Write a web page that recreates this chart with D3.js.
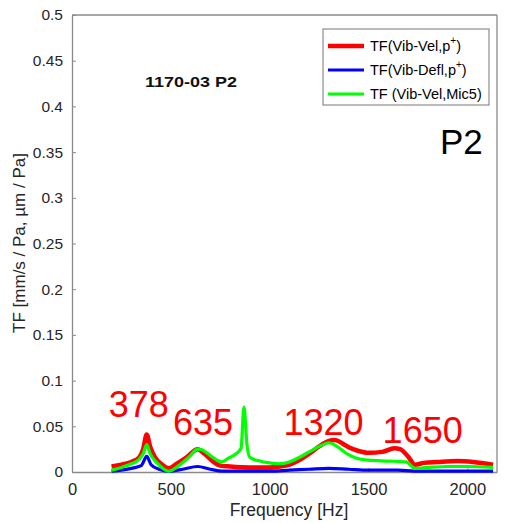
<!DOCTYPE html>
<html>
<head>
<meta charset="utf-8">
<script src="https://cdn.jsdelivr.net/npm/d3@7"></script>
<style>
  html, body { margin: 0; padding: 0; background: #fff; }
  svg { display: block; font-family: "Liberation Sans", Arial, Helvetica, sans-serif; }
</style>
</head>
<body>
<svg id="chart" width="506" height="523"></svg>
<script>
// Transfer function magnitudes vs frequency
const velFreq = [200, 250, 300, 340, 360, 378, 395, 420, 450, 490, 530, 580, 635, 670, 710, 750, 800, 900, 1000, 1050, 1100, 1150, 1200, 1250, 1300, 1330, 1370, 1400, 1450, 1500, 1570, 1630, 1660, 1700, 1735, 1780, 1850, 1950, 2030, 2130];
const velVals = [0.006, 0.008, 0.011, 0.016, 0.025, 0.041, 0.028, 0.016, 0.009, 0.004, 0.009, 0.016, 0.025, 0.020, 0.012, 0.007, 0.006, 0.005, 0.005, 0.006, 0.008, 0.013, 0.020, 0.028, 0.034, 0.035, 0.031, 0.027, 0.023, 0.021, 0.022, 0.026, 0.025, 0.017, 0.008, 0.010, 0.011, 0.012, 0.011, 0.008];

const deflFreq = [200, 300, 350, 378, 400, 440, 490, 560, 635, 700, 760, 900, 1000, 1100, 1200, 1300, 1400, 1500, 1650, 1730, 2130];
const deflVals = [0.001, 0.004, 0.007, 0.017, 0.008, 0.003, 0.001, 0.003, 0.006, 0.003, 0.001, 0.001, 0.001, 0.002, 0.003, 0.004, 0.003, 0.002, 0.002, 0.001, 0.001];

const micFreq = [200, 250, 300, 340, 360, 378, 395, 430, 490, 540, 590, 635, 660, 700, 757, 790, 830, 855, 870, 885, 900, 950, 1000, 1050, 1100, 1150, 1200, 1260, 1300, 1340, 1390, 1440, 1500, 1600, 1690, 1735, 1800, 1900, 2000, 2130];
const micVals = [0.002, 0.005, 0.009, 0.014, 0.020, 0.030, 0.020, 0.010, 0.001, 0.007, 0.016, 0.025, 0.024, 0.018, 0.011, 0.015, 0.020, 0.026, 0.071, 0.030, 0.016, 0.012, 0.010, 0.009, 0.011, 0.016, 0.022, 0.029, 0.032, 0.028, 0.020, 0.015, 0.013, 0.012, 0.011, 0.004, 0.005, 0.006, 0.006, 0.005];

const xTicks = [0, 500, 1000, 1500, 2000];
const yTicks = [0, 0.05, 0.1, 0.15, 0.2, 0.25, 0.3, 0.35, 0.4, 0.45, 0.5];

const peakLabels = ["378", "635", "1320", "1650"];
const peakFreqs = [378, 635, 1320, 1650];
const peakVals = [0.041, 0.025, 0.035, 0.026];

const seriesNames = ["TF(Vib-Vel,p", "TF(Vib-Defl,p", "TF (Vib-Vel,Mic5)"];
const seriesColors = ["#ff0000", "#0000ff", "#00ff00"];

const W = 506, H = 523;
const margin = { left: 72, top: 15, right: 9, bottom: 51 };
const iw = W - margin.left - margin.right;
const ih = H - margin.top - margin.bottom;

const svg = d3.select("#chart");
const g = svg.append("g").attr("transform", `translate(${margin.left},${margin.top})`);

const x = d3.scaleLinear().domain([0, 2150]).range([0, iw]);
const y = d3.scaleLinear().domain([0, 0.5]).range([ih, 0]);

const axisColor = "#8a8a8a";
const textColor = "#262626";

// axes with inward ticks
const xAxis = g.append("g").attr("transform", `translate(0,${ih})`)
  .call(d3.axisBottom(x).tickValues(xTicks).tickSizeInner(-4).tickSizeOuter(0).tickPadding(11).tickFormat(d3.format("d")));
const yAxis = g.append("g")
  .call(d3.axisLeft(y).tickValues(yTicks).tickSizeInner(-4).tickSizeOuter(0).tickPadding(9).tickFormat(d => String(+d.toFixed(2))));
[xAxis, yAxis].forEach(a => {
  a.selectAll("path").attr("stroke", axisColor).attr("stroke-width", 1.3);
  a.selectAll("line").attr("stroke", axisColor);
  a.selectAll("text").attr("fill", textColor).style("font-family", "Liberation Sans, Arial, sans-serif");
});
xAxis.selectAll("text").style("font-size", "16.5px");
yAxis.selectAll("text").style("font-size", "15.5px");
// box top/right
g.append("line").attr("x1", 0).attr("x2", iw).attr("y1", 0).attr("y2", 0).attr("stroke", axisColor).attr("stroke-width", 1.3);
g.append("line").attr("x1", iw).attr("x2", iw).attr("y1", 0).attr("y2", ih).attr("stroke", axisColor).attr("stroke-width", 1.3);

// axis labels
svg.append("text").attr("x", 289).attr("y", 516).attr("text-anchor", "middle")
  .attr("fill", textColor).style("font-size", "17.5px").text("Frequency [Hz]");
svg.append("text").attr("transform", `translate(25,243) rotate(-90)`).attr("text-anchor", "middle")
  .attr("fill", textColor).style("font-size", "17px").text("TF [mm/s / Pa, µm / Pa]");

// curves
const line = d3.line().x(d => x(d[0])).y(d => y(d[1])).curve(d3.curveMonotoneX);
const series = [
  { f: velFreq, v: velVals, c: seriesColors[0], w: 4.5 },
  { f: deflFreq, v: deflVals, c: seriesColors[1], w: 3.2 },
  { f: micFreq, v: micVals, c: seriesColors[2], w: 3.2 }
];
series.forEach(s => {
  g.append("path").datum(s.f.map((f, i) => [f, s.v[i]]))
    .attr("fill", "none").attr("stroke", s.c).attr("stroke-width", s.w)
    .attr("stroke-linejoin", "round").attr("d", line);
});

// peak frequency labels
const labelDx = [-8, 5.5, -9.5, 24.5];
const labelDy = [-17.5, -14, -5, -5];
peakLabels.forEach((t, i) => {
  g.append("text").attr("x", x(peakFreqs[i]) + labelDx[i]).attr("y", y(peakVals[i]) + labelDy[i])
    .attr("text-anchor", "middle").attr("fill", "#ff0000").style("font-size", "36px").text(t);
});

// titles inside axes
g.append("text").attr("x", 145 - margin.left).attr("y", 87 - margin.top).attr("fill", "#111")
  .attr("textLength", 92).attr("lengthAdjust", "spacingAndGlyphs")
  .style("font-size", "15.5px").style("font-weight", "bold").text("1170-03 P2");
g.append("text").attr("x", 440 - margin.left).attr("y", 154 - margin.top).attr("fill", "#000")
  .style("font-size", "35px").text("P2");

// legend
const lg = svg.append("g").attr("transform", "translate(323,29)");
lg.append("rect").attr("width", 166).attr("height", 76).attr("fill", "#fff").attr("stroke", "#777").attr("stroke-width", 1);
const rowY = [17, 41, 65];
seriesNames.forEach((n, i) => {
  lg.append("line").attr("x1", 5).attr("x2", 41).attr("y1", rowY[i]).attr("y2", rowY[i])
    .attr("stroke", seriesColors[i]).attr("stroke-width", i === 0 ? 4.5 : 3.2);
  const t = lg.append("text").attr("x", 47).attr("y", rowY[i] + 5).attr("fill", "#000").style("font-size", "14.5px");
  t.append("tspan").text(n);
  if (i < 2) {
    t.append("tspan").attr("dy", -7).style("font-size", "10px").text("+");
    t.append("tspan").attr("dy", 7).text(")");
  }
});
</script>
</body>
</html>
